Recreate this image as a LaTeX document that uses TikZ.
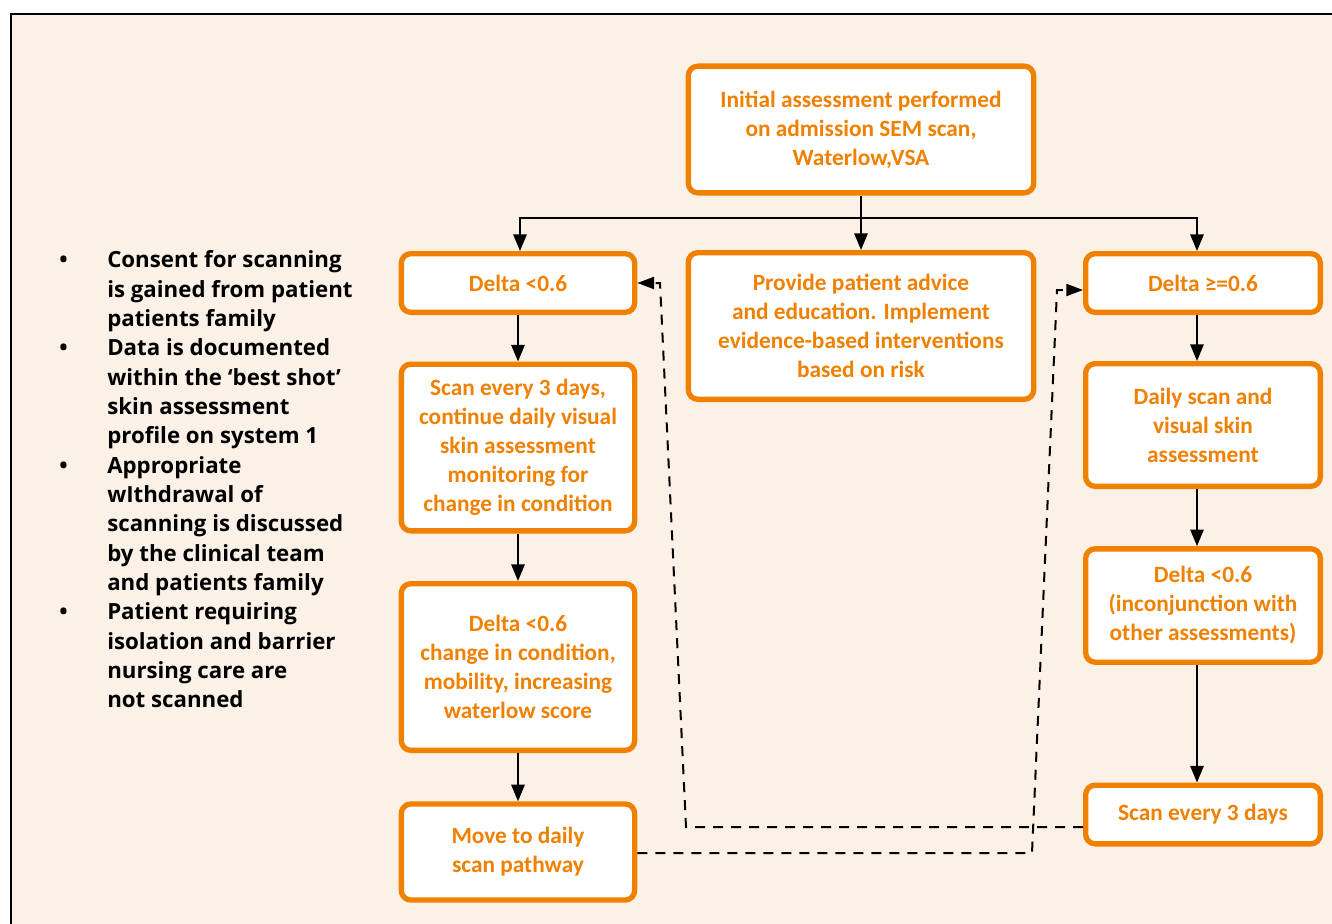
\documentclass[tikz,border=0pt]{standalone}
\usepackage{fontspec}
\setmainfont{Carlito}
\newfontfamily\stagefont{Carlito Bold}
\newfontfamily\notesfont{Open Sans Bold}
\usetikzlibrary{arrows.meta}
\usetikzlibrary{positioning}
\definecolor{boxorange}{RGB}{240,128,0}
\definecolor{paper}{RGB}{252,241,231}
\tikzstyle{stage} = [rectangle, rounded corners=2.5mm, draw=boxorange, line width=4pt, fill=white, text=boxorange, align=center, inner sep=0pt, font=\stagefont\fontsize{17.5}{21.75}\selectfont]
\tikzstyle{arrow} = [line width=1.5pt, -{Triangle[length=12.5pt,width=10pt]}]
\tikzstyle{line} = [line width=1.5pt]
\tikzstyle{back} = [line width=1.5pt, dash pattern=on 7.5pt off 6pt, -{Triangle[length=12.5pt,width=9pt]}]
\tikzstyle{notes} = [anchor=north west, inner sep=0pt, font=\notesfont\fontsize{16.7}{22}\selectfont]

\begin{document}
\begin{tikzpicture}[x=0.75pt, y=-0.75pt]

\useasboundingbox (0,0) rectangle (1332,924);
\draw [fill=paper, draw=black, line width=1.4pt] (11,14) rectangle (1350,940);

% notes on the left
\node (notes) [notes] at (59,247) {%
\begin{tabular}{@{}p{36pt}@{}l@{}}
\textbullet & Consent for scanning\\
 & is gained from patient\\
 & patients family\\
\textbullet & Data is documented\\
 & within the ‘best shot’\\
 & skin assessment\\
 & profile on system 1\\
\textbullet & Appropriate\\
 & wIthdrawal of\\
 & scanning is discussed\\
 & by the clinical team\\
 & and patients family\\
\textbullet & Patient requiring\\
 & isolation and barrier\\
 & nursing care are\\
 & not scanned
\end{tabular}};

% boxes
\node (init) [stage, minimum width=259pt, minimum height=95pt] at (861,129.5) {Initial assessment performed\\on admission SEM scan,\\Waterlow,VSA};
\node (deltaL) [stage, minimum width=175pt, minimum height=44pt] at (518,283) {Delta <0.6};
\node (advice) [stage, minimum width=259pt, minimum height=110pt] at (861,326) {Provide patient advice\\and education. Implement\\evidence-based interventions\\based on risk};
\node (deltaR) [stage, minimum width=176pt, minimum height=44pt] at (1203,283) {Delta ≥=0.6};
\node (scanL) [stage, minimum width=175pt, minimum height=125pt] at (518,447.5) {Scan every 3 days,\\continue daily visual\\skin assessment\\monitoring for\\change in condition};
\node (change) [stage, minimum width=175pt, minimum height=125pt] at (518,667) {Delta <0.6\\change in condition,\\mobility, increasing\\waterlow score};
\node (move) [stage, minimum width=175pt, minimum height=72pt] at (518,852) {Move to daily\\scan pathway};
\node (daily) [stage, minimum width=176pt, minimum height=92pt] at (1203,425) {Daily scan and\\visual skin\\assessment};
\node (inconj) [stage, minimum width=176pt, minimum height=85pt] at (1203,605.5) {Delta <0.6\\ (inconjunction with\\other assessments)};
\node (scanR) [stage, minimum width=176pt, minimum height=44pt] at (1203,814.5) {Scan every 3 days};

% split under the first box
\coordinate (split) at (861,218);
\coordinate (rcol) at (1197,0);
\draw [line] (init) -- (split);
\draw [arrow] (split) -- (advice);
\draw [arrow] (split) -| (deltaL.north -| 520,0);
\draw [arrow] (split) -| (deltaR.north -| rcol);

% left column
\draw [arrow] (deltaL) -- (scanL);
\draw [arrow] (scanL) -- (change);
\draw [arrow] (change) -- (move);

% right column
\draw [arrow] (deltaR.south -| rcol) -- (daily.north -| rcol);
\draw [arrow] (daily.south -| rcol) -- (inconj.north -| rcol);
\draw [arrow] (inconj.south -| rcol) -- (scanR.north -| rcol);

% dashed returns
\coordinate (b1) at (686,827);
\coordinate (b2) at (660,283);
\draw [back] (scanR.west |- b1) -- (b1) -- (b2) -- (deltaL.east);
\coordinate (c1) at (1032,853);
\coordinate (c2) at (1057,290);
\draw [back] (move.east |- c1) -- (c1) -- (c2) -- (deltaR.west |- c2);

\end{tikzpicture}
\end{document}
